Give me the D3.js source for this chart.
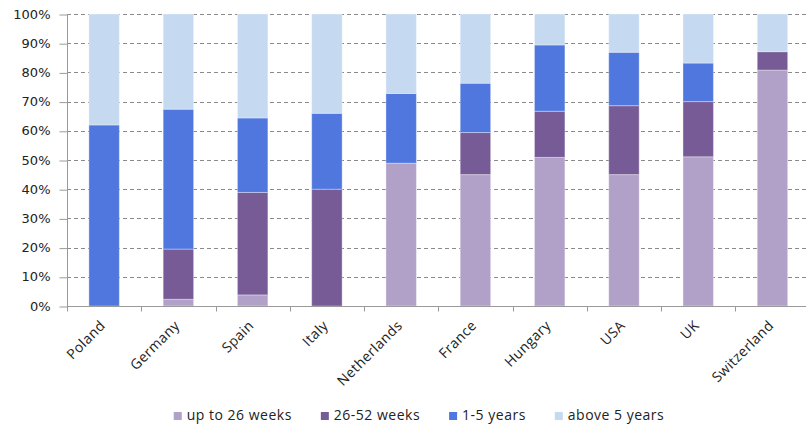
<!DOCTYPE html>
<html>
<head>
<meta charset="utf-8">
<script src="https://cdn.jsdelivr.net/npm/d3@7"></script>
<style>
  body { margin: 0; background: #fff; }
  svg { display: block; }
  .grid line { stroke: #8a8a8a; stroke-dasharray: 4,3; }
  .axis path, .axis line { stroke: #9a9a9a; }
  .yaxis text { font-family: "DejaVu Sans", sans-serif; font-size: 13px; fill: #222; }
  .xaxis text { font-family: "Open Sans", sans-serif; font-size: 14px; letter-spacing: 0.4px; fill: #222; }
  .legend text { font-family: "Open Sans", sans-serif; font-size: 14px; letter-spacing: 0.5px; fill: #222; }
</style>
</head>
<body>
<svg width="806" height="428"></svg>
<script>
var countries = ["Poland", "Germany", "Spain", "Italy", "Netherlands", "France", "Hungary", "USA", "UK", "Switzerland"];
var seriesNames = ["up to 26 weeks", "26-52 weeks", "1-5 years", "above 5 years"];
var upTo26 = [0, 2.3, 3.8, 0, 48.9, 45, 50.9, 45, 51.1, 80.8];
var weeks26to52 = [0, 17.2, 35.1, 40, 0, 14.4, 15.8, 23.6, 18.9, 6.3];
var years1to5 = [62, 47.9, 25.5, 26, 23.9, 16.9, 22.7, 18.3, 13.2, 0];
var above5 = [38, 32.6, 35.6, 34, 27.2, 23.7, 10.6, 13.1, 16.8, 12.9];
var yTicks = [0, 10, 20, 30, 40, 50, 60, 70, 80, 90, 100];
var colors = ["#b1a0c7", "#775b97", "#4f77de", "#c5d9f1"];

(function () {
  var svg = d3.select("svg"),
      left = 67, right = 809.6, top = 14, bottom = 306;

  var rows = countries.map(function (c, i) {
    return { country: c, "up to 26 weeks": upTo26[i], "26-52 weeks": weeks26to52[i],
             "1-5 years": years1to5[i], "above 5 years": above5[i] };
  });

  var stacked = d3.stack().keys(seriesNames)(rows);

  var x = d3.scaleBand()
      .domain(countries)
      .range([left, right])
      .paddingInner(0.59)
      .paddingOuter(0.295);

  var y = d3.scaleLinear().domain([0, 100]).range([bottom, top]);

  var color = d3.scaleOrdinal().domain(seriesNames).range(colors);

  // dashed gridlines
  svg.append("g")
    .attr("class", "grid")
    .selectAll("line")
    .data(yTicks.filter(function (t) { return t > 0; }))
    .enter().append("line")
      .attr("x1", left)
      .attr("x2", 806)
      .attr("y1", function (d) { return Math.round(y(d)) + 0.5; })
      .attr("y2", function (d) { return Math.round(y(d)) + 0.5; });

  // bars
  svg.append("g")
    .selectAll("g")
    .data(stacked)
    .enter().append("g")
      .attr("fill", function (d) { return color(d.key); })
    .selectAll("rect")
    .data(function (d) { return d.filter(function (s) { return s[1] - s[0] > 0; }); })
    .enter().append("rect")
      .attr("x", function (d) { return x(d.data.country); })
      .attr("width", x.bandwidth())
      .attr("y", function (d) { return y(d[1]); })
      .attr("height", function (d) { return y(d[0]) - y(d[1]); })
      .attr("stroke", "rgba(255,255,255,0.35)")
      .attr("stroke-width", 1);

  // y axis
  var yAxis = svg.append("g")
    .attr("class", "axis yaxis")
    .attr("transform", "translate(" + (left + 0.5) + ",0)")
    .call(d3.axisLeft(y).tickValues(yTicks).tickSize(8).tickPadding(9)
      .tickFormat(function (d) { return d + "%"; }));
  yAxis.selectAll(".tick line").attr("transform", "translate(0,0.5)");
  yAxis.select(".domain").attr("d", "M0," + top + "V" + (bottom + 0.5));

  // x axis with ticks between categories
  var xg = svg.append("g")
    .attr("class", "axis xaxis")
    .attr("transform", "translate(0," + (bottom + 0.5) + ")");
  xg.append("line")
    .attr("x1", left).attr("x2", 806);
  xg.selectAll(".sep")
    .data(d3.range(countries.length + 1))
    .enter().append("line")
      .attr("class", "sep")
      .attr("x1", function (i) { return Math.round(left + i * x.step()) + 0.5; })
      .attr("x2", function (i) { return Math.round(left + i * x.step()) + 0.5; })
      .attr("y1", 0).attr("y2", 5);
  xg.selectAll("text")
    .data(countries)
    .enter().append("text")
      .attr("text-anchor", "end")
      .attr("transform", function (d) {
        return "translate(" + (x(d) + x.bandwidth() / 2 + 2) + ",20) rotate(-45)";
      })
      .text(function (d) { return d; });

  // legend
  var legend = svg.append("g").attr("class", "legend");
  var items = legend.selectAll("g")
    .data(seriesNames)
    .enter().append("g");
  items.append("rect")
    .attr("width", 8).attr("height", 8)
    .attr("y", 412)
    .attr("fill", function (d) { return color(d); });
  items.append("text")
    .attr("x", 13)
    .attr("y", 420)
    .text(function (d) { return d; });

  var widths = [], total = 0, gap = 29;
  items.each(function () {
    var w = 13 + this.querySelector("text").getComputedTextLength();
    widths.push(w);
    total += w;
  });
  total += gap * (seriesNames.length - 1);
  var pos = 419 - total / 2;
  items.attr("transform", function (d, i) {
    var t = "translate(" + pos + ",0)";
    pos += widths[i] + gap;
    return t;
  });
})();
</script>
</body>
</html>
